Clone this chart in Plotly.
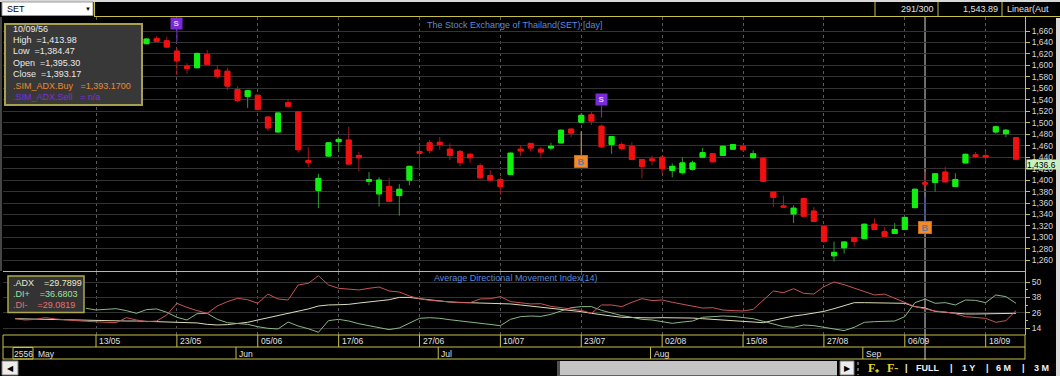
import plotly.graph_objects as go

W, H = 1060, 376
def px(x): return x / W
def py(y): return 1 - y / H

# ---------------- data ----------------
bar_start = 5          # bar index of first visible candle (13/05 = bar 0)
opens = [1638, 1647, 1643, 1625, 1599, 1596, 1619, 1592, 1590, 1558,
         1546, 1548, 1510, 1484, 1535, 1519, 1434, 1382, 1442, 1467,
         1470, 1443, 1398, 1376, 1389, 1373, 1400, 1450, 1465, 1466,
         1454, 1450, 1445, 1425, 1408, 1401, 1410, 1454, 1464, 1454,
         1456, 1465, 1489, 1501, 1514, 1494, 1462, 1462, 1459, 1436,
         1437, 1440, 1417, 1413, 1419, 1440, 1446, 1443, 1454, 1459,
         1439, 1438, 1379, 1355, 1341, 1368, 1346, 1319, 1268, 1282,
         1300, 1298, 1323, 1310, 1307, 1314, 1352, 1395.30, 1396, 1414,
         1389, 1430, 1444, 1443, 1484, 1481, 1474]
highs = [1647, 1651, 1650, 1630, 1604, 1622, 1627, 1601, 1596, 1564,
         1557, 1549, 1512, 1518, 1541, 1520, 1457, 1411, 1466, 1475,
         1493, 1449, 1414, 1405, 1404, 1393, 1425, 1461, 1470, 1475,
         1464, 1453, 1447, 1429, 1417, 1405, 1448, 1460, 1465, 1458,
         1465, 1488, 1490, 1517, 1519, 1497, 1477, 1466, 1466, 1437,
         1443, 1442, 1429, 1440, 1434, 1456, 1447, 1460, 1463, 1460,
         1452, 1440, 1380, 1373, 1356, 1369, 1353, 1320, 1293, 1293,
         1301, 1324, 1333, 1318, 1325, 1336, 1385, 1413.98, 1412, 1423,
         1412, 1446, 1449, 1451, 1495, 1489, 1475]
lows = [1637, 1641, 1631, 1583, 1586, 1595, 1601, 1577, 1557, 1536,
        1526, 1522, 1486, 1483, 1528, 1448, 1423, 1351, 1441, 1449,
        1427, 1415, 1391, 1354, 1362, 1338, 1391, 1421, 1447, 1453,
        1435, 1424, 1430, 1403, 1398, 1375, 1409, 1442, 1450, 1438,
        1452, 1464, 1475, 1499, 1496, 1457, 1446, 1452, 1435, 1403,
        1426, 1412, 1405, 1410, 1417, 1439, 1431, 1442, 1453, 1449,
        1438, 1397, 1353, 1352, 1325, 1336, 1327, 1290, 1258, 1272,
        1284, 1297, 1313, 1301, 1306, 1313, 1351, 1384.47, 1380, 1396,
        1388, 1429, 1438, 1431, 1481, 1475, 1435]
closes = [1646, 1642, 1632, 1608, 1595, 1621, 1602, 1581, 1564, 1539,
          1556, 1523, 1491, 1517, 1529, 1453, 1431, 1403, 1465, 1471,
          1428, 1439, 1401, 1400, 1363, 1384, 1424, 1447, 1452, 1462,
          1443, 1431, 1439, 1404, 1400, 1389, 1447, 1451, 1456, 1449,
          1459, 1487, 1482, 1513, 1503, 1458, 1476, 1455, 1436, 1424,
          1434, 1420, 1424, 1430, 1430, 1448, 1432, 1459, 1462, 1453,
          1446, 1398, 1370, 1353, 1351, 1337, 1328, 1293, 1274, 1292,
          1293, 1323, 1314, 1302, 1314, 1335, 1384, 1393.17, 1411, 1397,
          1401, 1445, 1441, 1440, 1493, 1487, 1436.6]

adx_start = -8
adx = [21.4, 21.2, 20.9, 20.8, 20.6, 20.5, 20.4, 20.1,
       20.0, 19.9, 19.7, 19.6, 19.6, 19.4, 19.2, 19.1, 19.0, 18.7,
       18.1, 17.0, 16.5, 16.8, 17.5, 18.6, 20.4, 22.2, 24.0, 25.6,
       27.1, 29.0, 31.3, 32.1, 32.3, 32.6, 33.6, 34.4, 34.9, 36.2,
       38.0, 38.0, 37.0, 36.0, 34.9, 34.4, 34.1, 33.9, 33.6, 33.4,
       33.4, 32.9, 32.1, 31.3, 30.5, 29.5, 28.7, 27.9, 26.9, 25.6,
       24.3, 23.5, 22.5, 22.2, 22.0, 22.0, 22.2, 22.2, 22.2, 21.9,
       21.4, 20.9, 20.4, 19.6, 19.1, 18.6, 18.3, 20.1, 21.7, 23.5,
       24.5, 25.6, 27.1, 29.2, 31.3, 33.9, 33.9, 33.9, 33.9, 33.9,
       33.4, 30.8, 29.7899, 27.1, 26.4, 25.6, 25.1, 25.1, 25.1, 25.3,
       25.6, 25.6]
di_minus = [21.4, 20.4, 20.9, 22.2, 21.2, 20.4, 19.9, 19.4,
            18.8, 18.6, 18.3, 22.2, 20.4, 19.1, 19.6, 24.3, 33.4, 30.2,
            27.7, 25.6, 31.3, 34.7, 37.3, 36.2, 33.4, 40.6, 36.8, 36.0,
            47.7, 49.0, 54.9, 47.7, 45.1, 44.3, 43.8, 45.1, 46.1, 43.0,
            42.2, 39.1, 37.0, 35.7, 34.9, 34.4, 33.9, 33.9, 36.8, 37.0,
            38.6, 34.7, 33.6, 32.9, 33.1, 31.0, 30.0, 29.0, 27.9, 25.6,
            32.1, 32.1, 30.8, 34.2, 37.0, 35.5, 36.0, 34.2, 32.6, 30.8,
            29.7, 30.0, 28.2, 27.7, 27.4, 28.7, 36.0, 43.0, 41.7, 44.8,
            41.2, 40.6, 46.4, 50.0, 47.9, 45.1, 42.5, 39.9, 40.6, 37.3,
            34.2, 30.8, 29.0819, 27.4, 26.6, 25.3, 23.0, 22.2, 21.7, 18.6,
            19.9, 27.7]
diplus_start = -1
di_plus = [29.5,
           28.2, 28.7, 29.2, 27.7, 25.6, 28.5, 29.0, 26.4, 22.5, 20.4,
           25.3, 25.6, 20.9, 18.3, 17.5, 17.0, 15.2, 13.9, 13.4, 18.8,
           15.7, 13.6, 10.8, 19.9, 20.9, 19.6, 17.5, 16.0, 14.7, 12.9,
           14.2, 17.8, 21.7, 22.2, 21.7, 20.6, 19.6, 18.6, 17.8, 16.8,
           16.0, 20.9, 23.0, 23.5, 23.2, 24.8, 27.4, 30.0, 30.8, 30.8,
           27.9, 25.6, 23.8, 22.5, 20.9, 20.4, 19.1, 17.8, 18.8, 19.6,
           22.5, 23.0, 23.5, 23.2, 22.5, 21.4, 19.4, 17.3, 15.2, 14.7,
           16.5, 16.0, 14.7, 12.9, 12.1, 14.7, 18.6, 19.1, 19.1, 19.6,
           23.0, 33.9, 36.6803, 33.4, 33.9, 32.1, 36.0, 35.7, 33.9, 39.9,
           38.6, 33.4]

date_ticks = [0, 8, 16, 24, 32, 40, 48, 56, 64, 72, 80, 88]
date_labels = ["13/05", "23/05", "05/06", "17/06", "27/06", "10/07",
               "23/07", "02/08", "15/08", "27/08", "06/09", "18/09"]
month_ticks = [-6, 14, 34, 55, 76]
month_labels = ["May", "Jun", "Jul", "Aug", "Sep"]
year_label = "2556"
price_ticks = list(range(1260, 1661, 20))
adx_ticks = [14, 26, 38, 50]
sell_bars = [8, 50]
buy_bars = [48, 82]
cursor_bar = 82
cursor_date = "10/09/56"
buy_value = 1393.17

# ---------------- derived ----------------
xb = list(range(bar_start, bar_start + len(opens)))
x_adx = list(range(adx_start, adx_start + len(adx)))
x_dim = list(range(adx_start, adx_start + len(di_minus)))
x_dip = list(range(diplus_start, diplus_start + len(di_plus)))
body_hi = [max(o, c) for o, c in zip(opens, closes)]
body_lo = [min(o, c) for o, c in zip(opens, closes)]
# tick labels hidden behind the last-price tag (as in the original)
price_text = ["" if closes[-1] - 16 < t < closes[-1] else format(t, ",d") for t in price_ticks]

def bar(i): return i - bar_start

FONT = "Liberation Sans, Arial, sans-serif"
YEL = "#c8c048"
GREEN = "#10f010"
RED = "#f01010"

fig = go.Figure()
# wicks (darker)
fig.add_trace(go.Candlestick(
    x=xb, open=opens, high=highs, low=lows, close=closes,
    increasing=dict(line=dict(color="#2f9a2f", width=1), fillcolor=GREEN),
    decreasing=dict(line=dict(color="#a81818", width=1), fillcolor=RED),
    hoverinfo="skip", showlegend=False, xaxis="x", yaxis="y"))
# bodies (bright)
fig.add_trace(go.Candlestick(
    x=xb, open=opens, high=body_hi, low=body_lo, close=closes,
    increasing=dict(line=dict(color=GREEN, width=1), fillcolor=GREEN),
    decreasing=dict(line=dict(color=RED, width=1), fillcolor=RED),
    hoverinfo="skip", showlegend=False, xaxis="x", yaxis="y"))

fig.add_trace(go.Scatter(x=x_adx, y=adx, mode="lines",
                         line=dict(color="#dcdcb8", width=1),
                         hoverinfo="skip", showlegend=False, xaxis="x2", yaxis="y2"))
fig.add_trace(go.Scatter(x=x_dip, y=di_plus, mode="lines",
                         line=dict(color="#88b888", width=1),
                         hoverinfo="skip", showlegend=False, xaxis="x2", yaxis="y2"))
fig.add_trace(go.Scatter(x=x_dim, y=di_minus, mode="lines",
                         line=dict(color="#c85458", width=1),
                         hoverinfo="skip", showlegend=False, xaxis="x2", yaxis="y2"))

xr = [(3 - 96) / 10.11, (1025 - 96) / 10.11]
xdom = [px(3), px(1025)]
xcommon = dict(range=xr, domain=xdom, showticklabels=False, tickvals=date_ticks,
               showgrid=True, gridcolor="#5a5a5a", griddash="dot", gridwidth=1,
               zeroline=False, showline=False, ticks="", fixedrange=True)

shapes = []
def hline(y, x0, x1, color=YEL, w=1):
    shapes.append(dict(type="line", xref="paper", yref="paper",
                       x0=px(x0), x1=px(x1), y0=py(y), y1=py(y),
                       line=dict(color=color, width=w)))
def vline(x, y0, y1, color=YEL, w=1, dash=None):
    shapes.append(dict(type="line", xref="paper", yref="paper",
                       x0=px(x), x1=px(x), y0=py(y0), y1=py(y1),
                       line=dict(color=color, width=w, dash=dash)))
def rect(x0, y0, x1, y1, fill, line=None, lw=1, layer="above"):
    shapes.append(dict(type="rect", xref="paper", yref="paper",
                       x0=px(x0), x1=px(x1), y0=py(y1), y1=py(y0),
                       fillcolor=fill, layer=layer,
                       line=dict(color=line or fill, width=lw if line else 0)))

# crosshair
shapes.append(dict(type="line", xref="x", yref="paper", x0=cursor_bar, x1=cursor_bar,
                   y0=py(17), y1=py(360), layer="below",
                   line=dict(color="#d8d8d8", width=1)))

# top bar
rect(0, 0, 1060, 2, "#d8d8d8")
rect(2, 2, 93, 15.5, "#ffffff", "#9a9a9a", 1)
hline(16.5, 94, 1060)
vline(94.5, 2, 17)
vline(875, 2, 17)
vline(938, 2, 17)
vline(1002, 2, 17)
# panel borders
hline(271.5, 3, 1025)
hline(335, 3, 1025)
hline(347, 3, 1025)
hline(359, 3, 1025)
vline(3, 335, 359.5)
vline(1025, 335, 359.5)
vline(1, 17, 271, color="#8a8a8a")
# date and month separators
for t in date_ticks:
    shapes.append(dict(type="line", xref="x", yref="paper", x0=t, x1=t,
                       y0=py(335), y1=py(347), line=dict(color=YEL, width=1)))
for t in month_ticks[1:]:
    shapes.append(dict(type="line", xref="x", yref="paper", x0=t - 0.15, x1=t - 0.15,
                       y0=py(347), y1=py(359), line=dict(color=YEL, width=1)))
rect(13, 347.5, 33, 359, "rgba(0,0,0,0)", YEL, 1)
# info boxes
rect(5, 24, 142, 105, "#383838", "#a8a050", 2)
rect(8, 276, 84, 312.5, "#333333", "#b0a850", 1.5)
# right side sliver
rect(1056, 18, 1060, 376, "#dcdcdc")
# bottom scroll bar
rect(2, 361, 18, 375, "#ececec", "#808080", 1)
rect(557, 361, 837, 375.5, "#c4c4c4")
rect(557, 361, 560, 375.5, "#505050")
rect(840, 361, 854, 375, "#ececec", "#808080", 1)
vline(858, 362, 375, color="#c0c0c0", dash="dot")

ann = []
def text(x, y, s, color="#e0e0e0", size=9, anchor="left", bold=False, family=FONT):
    ann.append(dict(xref="paper", yref="paper", x=px(x), y=py(y), text=("<b>%s</b>" % s) if bold else s,
                    showarrow=False, xanchor=anchor, yanchor="middle",
                    font=dict(color=color, size=size, family=family)))

text(5, 9, "SET", color="#000000", size=9)
text(88, 9, "▼", color="#000000", size=6, anchor="center")
text(936, 9, "291/300", anchor="right")
text(1000, 9, "1,543.89", anchor="right")
text(1005, 9, "Linear(Aut")
text(514, 25, "The Stock Exchange of Thailand(SET) [day]", color="#5a8ad8", size=9, anchor="center")
text(515, 277.5, "Average Directional Movement Index(14)", color="#5a8ad8", size=9, anchor="center")

k = bar(cursor_bar)
info = [(cursor_date, "#e8e8e8"),
        ("High  =%s" % format(highs[k], ",.2f"), "#e8e8e8"),
        ("Low  =%s" % format(lows[k], ",.2f"), "#e8e8e8"),
        ("Open  =%s" % format(opens[k], ",.2f"), "#e8e8e8"),
        ("Close  =%s" % format(closes[k], ",.2f"), "#e8e8e8"),
        (".SIM_ADX.Buy   =%s" % format(buy_value, ",.4f"), "#e88a30"),
        (".SIM_ADX.Sell   = n/a", "#7a30e0")]
for j, (s, c) in enumerate(info):
    text(11, 28.5 + j * 11.4, s, color=c, size=9)

ka = cursor_bar - adx_start
kp = cursor_bar - diplus_start
leg = [(".ADX    =%.4f" % adx[ka], "#e8e8c8"),
       (".DI+    =%.4f" % di_plus[kp], "#a0e0a0"),
       (".DI-    =%.4f" % di_minus[ka], "#e87070")]
for j, (s, c) in enumerate(leg):
    text(11, 282.5 + j * 11, s, color=c, size=9)

for t, s in zip(date_ticks, date_labels):
    ann.append(dict(xref="x", yref="paper", x=t, y=py(341), text=s, showarrow=False,
                    xanchor="left", yanchor="middle", xshift=1,
                    font=dict(color="#e0e0e0", size=8.5, family=FONT)))
text(23, 353.5, year_label, size=8.5, anchor="center")
for t, s in zip(month_ticks, month_labels):
    ann.append(dict(xref="x", yref="paper", x=t - 0.15, y=py(353.5), text=s, showarrow=False,
                    xanchor="left", yanchor="middle", xshift=1 if t != month_ticks[0] else 2,
                    font=dict(color="#e0e0e0", size=8.5, family=FONT)))

# last price tag
ann.append(dict(xref="paper", yref="y", x=px(1026), y=closes[-1], text=format(closes[-1], ",.1f"),
                showarrow=False, xanchor="left", yanchor="top", bgcolor="#c8f0c0",
                width=32, height=9, borderpad=0, align="left",
                font=dict(color="#000000", size=8.5, family=FONT)))

# signals
for b in sell_bars:
    ann.append(dict(xref="x", yref="y", x=b, y=highs[bar(b)], text="<b>S</b>", showarrow=True,
                    arrowhead=0, ax=0, ay=-25, standoff=7, arrowcolor="#6a2ab8", arrowwidth=1.2,
                    bgcolor="#7a2ad8", width=11, height=11, borderpad=0,
                    font=dict(color="#d8d8d8", size=8, family=FONT)))
for b, col in zip(buy_bars, ["#c88850", "#3050a8"]):
    ann.append(dict(xref="x", yref="y", x=b, y=lows[bar(b)], text="<b>B</b>", showarrow=True,
                    arrowhead=0, ax=0, ay=38, standoff=8, arrowcolor=col, arrowwidth=1.2,
                    bgcolor="#f08a2a", bordercolor="#c86a10", borderwidth=1,
                    width=12, height=11, borderpad=0,
                    font=dict(color="#6878a0", size=9, family=FONT)))

# bottom buttons
text(10, 368, "◀", color="#000000", size=8, anchor="center")
text(847, 368, "▶", color="#000000", size=8, anchor="center")
text(873, 368, "F₊", color="#e8d820", size=12, anchor="center", bold=True, family="Liberation Serif, serif")
text(892, 368, "F-", color="#e8d820", size=12, anchor="center", bold=True, family="Liberation Serif, serif")
for xx, s in [(906, "|"), (927, "FULL"), (951, "|"), (968, "1 Y"), (987, "|"),
              (1003, "6 M"), (1023, "|"), (1041, "3 M")]:
    text(xx, 368, s, color="#f0f0f0", size=9, anchor="center", bold=True)

fig.update_layout(
    width=W, height=H, autosize=False,
    margin=dict(l=0, r=0, t=0, b=0, pad=0),
    paper_bgcolor="#000000", plot_bgcolor="#000000",
    showlegend=False, hovermode=False,
    xaxis=dict(anchor="y", **xcommon, rangeslider=dict(visible=False)),
    xaxis2=dict(anchor="y2", matches="x", **xcommon),
    yaxis=dict(domain=[py(271.5), py(17)], range=[1240.6, 1684.5], side="right",
               anchor="x", tickvals=price_ticks, ticktext=price_text, ticks="outside",
               ticklen=4, tickcolor=YEL, showline=True, linecolor=YEL, linewidth=1,
               showgrid=True, gridcolor="#333333", gridwidth=1, zeroline=False,
               tickfont=dict(color="#d8d8d8", size=8.5, family=FONT), fixedrange=True),
    yaxis2=dict(domain=[py(335), py(272)], range=[8.7, 57.8], side="right",
                anchor="x2", tickvals=adx_ticks, ticks="outside", ticklen=4, tickcolor=YEL,
                showline=True, linecolor=YEL, linewidth=1, showgrid=True,
                gridcolor="#333333", zeroline=False,
                minor=dict(tickvals=[20, 32, 44], ticks="outside", ticklen=2,
                           tickcolor=YEL, showgrid=False),
                tickfont=dict(color="#d8d8d8", size=8.5, family=FONT), fixedrange=True),
    shapes=shapes, annotations=ann,
)

fig.write_html("out.html", config=dict(displayModeBar=False),
               post_script="document.body.style.margin='0';document.body.style.overflow='hidden';document.body.style.background='#000';")
